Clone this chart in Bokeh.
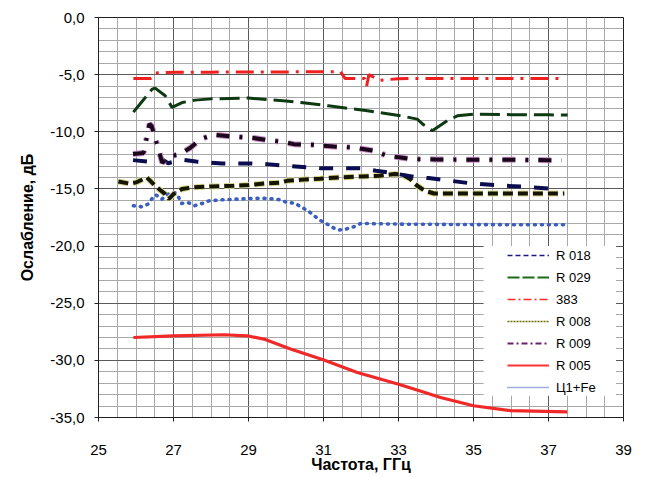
from bokeh.plotting import figure
from bokeh.models import FixedTicker, Legend, LegendItem, BoxAnnotation, Range1d
from bokeh.embed import file_html
from bokeh.resources import INLINE

# ---- data ----
x_ticks = [25, 27, 29, 31, 33, 35, 37, 39]
x_minor = [25 + 0.5 * i for i in range(29)]
y_ticks = [-35, -30, -25, -20, -15, -10, -5, 0]
y_tick_labels = ["-35,0", "-30,0", "-25,0", "-20,0", "-15,0", "-10,0", "-5,0", "0,0"]
y_minor = list(range(-35, 1))

x_r018 = [25.92, 26.3, 26.65, 26.85, 27.23, 27.6, 28.3, 29.0, 29.5, 30.0, 30.35, 30.9, 31.5, 32.0,
          32.4, 32.9, 33.4, 33.8, 34.25, 34.9, 35.6, 36.3, 37.2]
y_r018 = [-12.48, -12.6, -12.3, -12.75, -12.45, -12.6, -12.77, -12.77, -12.83, -12.97, -13.05, -13.18,
          -13.18, -13.2, -13.41, -13.65, -13.94, -14.05, -14.23, -14.5, -14.68, -14.8, -15.0]

x_r029 = [25.93, 26.2, 26.43, 26.51, 26.78, 26.96, 27.23, 27.58, 28.0, 29.0, 30.0, 30.4, 31.13, 32.17,
          33.06, 33.5, 33.67, 33.9, 34.3, 34.57, 35.0, 36.0, 37.0, 37.51]
y_r029 = [-8.28, -7.2, -6.27, -6.18, -6.85, -7.87, -7.44, -7.23, -7.12, -7.05, -7.3, -7.44, -7.73, -8.16,
          -8.6, -8.89, -9.39, -9.91, -9.04, -8.6, -8.45, -8.5, -8.52, -8.54]

x_383 = [25.93, 26.4, 26.52, 27.0, 28.0, 29.0, 30.0, 31.0, 31.45, 31.58, 32.1, 32.15, 32.21, 32.5,
         33.0, 34.0, 35.0, 36.0, 37.0, 37.42]
y_383 = [-5.33, -5.33, -4.85, -4.8, -4.78, -4.77, -4.76, -4.74, -4.74, -5.34, -5.34, -6.0, -5.0, -5.5,
         -5.35, -5.34, -5.34, -5.34, -5.34, -5.33]

x_r008 = [25.53, 25.8, 26.0, 26.29, 26.56, 26.78, 26.87, 27.0, 27.23, 27.5, 28.0, 28.6, 29.0, 29.45,
          29.85, 30.03, 30.38, 30.9, 31.4, 32.0, 32.5, 32.9, 33.1, 33.3, 33.5, 33.7, 33.95, 35.0, 36.0,
          37.0, 37.42]
y_r008 = [-14.35, -14.52, -14.44, -14.0, -14.87, -15.45, -15.89, -15.45, -15.0, -14.87, -14.78, -14.72,
          -14.66, -14.52, -14.45, -14.29, -14.2, -14.1, -14.0, -13.91, -13.85, -13.7, -13.75, -14.1,
          -14.72, -15.16, -15.4, -15.4, -15.4, -15.4, -15.4]

x_r009 = [25.92, 26.2, 26.36, 26.42, 26.7, 26.95, 27.15, 27.45, 27.72, 28.07, 28.6, 29.14, 29.5, 29.85,
          30.21, 30.7, 31.27, 31.8, 32.34, 32.7, 33.06, 33.32, 34.0, 35.0, 36.0, 37.0, 37.35]
y_r009 = [-11.95, -11.85, -9.3, -9.5, -12.7, -12.1, -12.0, -11.4, -10.64, -10.26, -10.42, -10.55,
          -10.73, -10.87, -11.08, -11.14, -11.29, -11.37, -11.66, -12.1, -12.25, -12.39, -12.42, -12.45,
          -12.45, -12.48, -12.48]

x_r005 = [25.93, 27.0, 28.34, 28.96, 29.41, 30.12, 31.01, 31.9, 32.98, 33.6, 34.12, 35.0, 35.99, 37.5]
y_r005 = [-28.0, -27.85, -27.76, -27.85, -28.14, -29.01, -29.97, -31.06, -32.07, -32.7, -33.25, -33.97,
          -34.4, -34.5]

x_c1fe = [25.93, 26.14, 26.32, 26.44, 26.53, 26.62, 26.69, 26.85, 27.03, 27.14, 27.21, 27.39, 27.56,
          27.76, 27.95, 28.3, 28.7, 29.1, 29.5, 29.85, 30.03, 30.23, 30.43, 30.61, 30.9, 31.1, 31.28,
          31.41, 31.59, 31.81, 31.99, 33.0, 34.0, 35.0, 36.0, 37.42]
y_c1fe = [-16.47, -16.56, -16.33, -15.8, -15.51, -15.75, -15.89, -15.45, -15.31, -15.75, -16.27, -16.19,
          -16.47, -16.27, -16.04, -15.95, -15.89, -15.83, -15.83, -15.95, -16.19, -16.24, -16.62, -16.97,
          -17.73, -18.08, -18.43, -18.6, -18.52, -18.31, -18.02, -18.08, -18.1, -18.12, -18.13, -18.14]

names = ["R 018", "R 029", "383", "R 008", "R 009", "R 005", "Ц1+Fe"]

FONT = "Liberation Sans"

p = figure(width=645, height=477, x_range=Range1d(25, 39), y_range=Range1d(-35, 0),
           output_backend="svg", toolbar_location=None,
           min_border_left=98, min_border_right=22, min_border_top=17, min_border_bottom=60)
p.background_fill_color = "white"
p.border_fill_color = "white"
p.outline_line_color = "#202020"
p.outline_line_width = 1

p.xaxis.ticker = FixedTicker(ticks=x_ticks, minor_ticks=x_minor)
p.yaxis.ticker = FixedTicker(ticks=y_ticks, minor_ticks=y_minor)
p.yaxis.major_label_overrides = {t: l for t, l in zip(y_ticks, y_tick_labels)}

for ax in (p.xaxis, p.yaxis):
    ax.axis_line_color = "#202020"
    ax.major_tick_line_color = "#202020"
    ax.major_tick_out = 4
    ax.major_tick_in = 0
    ax.minor_tick_line_color = None
    ax.major_label_text_font = FONT
    ax.major_label_text_color = "black"
    ax.axis_label_text_font = FONT
    ax.axis_label_text_font_style = "bold"
    ax.axis_label_text_font_size = "16px"
    ax.axis_label_text_color = "black"

p.xaxis.major_label_text_font_size = "15px"
p.yaxis.major_label_text_font_size = "15px"
p.xaxis.major_label_standoff = 23
p.yaxis.major_label_standoff = 10
p.xaxis.axis_label_standoff = -2
p.yaxis.axis_label_standoff = 11
p.xaxis.axis_label = "Частота, ГГц"
p.yaxis.axis_label = "Ослабление, дБ"

for g in (p.xgrid, p.ygrid):
    g.grid_line_color = "#5a5a5a"
    g.grid_line_width = 1
    g.minor_grid_line_color = "#a8a8a8"
    g.minor_grid_line_width = 1

# ---- series (thick, as drawn in plot) ----
p.line(x_r005, y_r005, line_color="#f02828", line_width=3.2)
p.line(x_c1fe, y_c1fe, line_color="#3a5fc0", line_width=3.6, line_dash="1 6", line_cap="round")
p.line(x_r008, y_r008, line_color="#d8d890", line_width=6, line_dash="10 5")
p.line(x_r008, y_r008, line_color="#161600", line_width=4, line_dash="10 5")
p.line(x_r018, y_r018, line_color="#0c0c50", line_width=4, line_dash="14 13")
p.line(x_r009, y_r009, line_color="#c890c8", line_width=6, line_dash="13 10 3 10")
p.line(x_r009, y_r009, line_color="#1c061c", line_width=4, line_dash="13 10 3 10")
p.line(x_r029, y_r029, line_color="#0e3a12", line_width=3, line_dash="20 7")
p.line(x_383, y_383, line_color="#f02020", line_width=3, line_dash="18 7 3 7")

# ---- legend (thin sample lines; renderers hold no visible points) ----
leg_styles = [
    dict(line_color="#1a1a80", line_width=1.3, line_dash="5 3"),
    dict(line_color="#1a6b1a", line_width=2, line_dash="12 3"),
    dict(line_color="#ff2a2a", line_width=1.3, line_dash="8 3 2 3"),
    dict(line_color="#6b6b00", line_width=1.3, line_dash="2 1"),
    dict(line_color="#6b206b", line_width=2, line_dash="6 3 2 3"),
    dict(line_color="#ff3333", line_width=2),
    dict(line_color="#3a5fc0", line_width=1.6, line_dash="1 1"),
]
nan = float("nan")
items = []
for name, st in zip(names, leg_styles):
    r = p.line([nan, nan], [nan, nan], **st)
    items.append(LegendItem(label=name, renderers=[r]))

cover = BoxAnnotation(left=35.27, right=38.8, bottom=-33.1, top=-20.0,
                      fill_color="white", fill_alpha=1.0, line_alpha=0)
p.add_layout(cover)

legend = Legend(items=items, location=(407, 18))
legend.glyph_width = 42
legend.glyph_height = 20
legend.label_height = 20
legend.label_standoff = 7
legend.spacing = 2
legend.padding = 2
legend.border_line_alpha = 0
legend.background_fill_alpha = 0
legend.label_text_font = FONT
legend.label_text_font_size = "13px"
legend.label_text_color = "black"
p.add_layout(legend)

open("out.html", "w").write(file_html(p, INLINE))
